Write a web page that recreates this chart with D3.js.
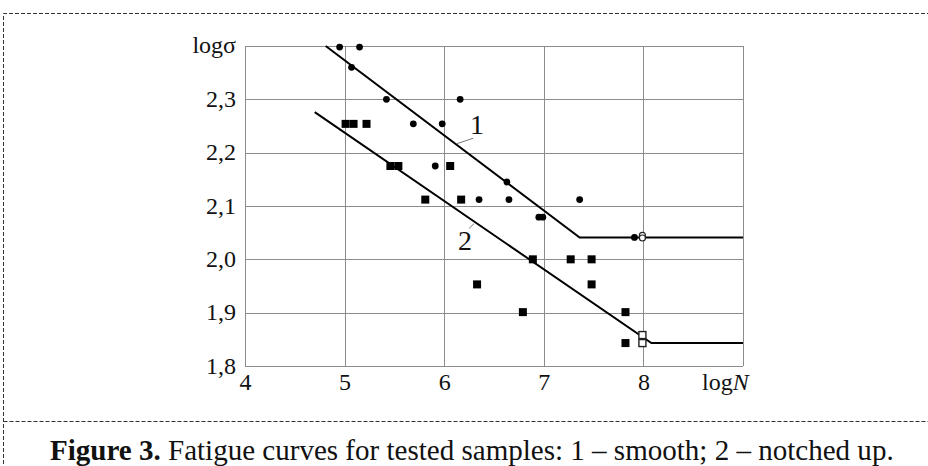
<!DOCTYPE html>
<html>
<head>
<meta charset="utf-8">
<script src="https://cdn.jsdelivr.net/npm/d3@7"></script>
<style>
  body { margin: 0; background: #fff; }
  svg { display: block; }
  text { font-family: "Liberation Serif", "Times New Roman", serif; fill: #111; }
</style>
</head>
<body>
<script>
//Width and height
var w = 928;
var h = 466;

//Tick values and labels
var xTicks = [4, 5, 6, 7, 8];
var yTicks = [1.8, 1.9, 2.0, 2.1, 2.2, 2.3];
var yTickLabels = ["1,8", "1,9", "2,0", "2,1", "2,2", "2,3"];

//Curve 1 - smooth samples (logN, logσ)
var smoothN = [4.95, 5.15, 5.07, 5.42, 6.16, 5.69, 5.98, 5.91, 6.35, 6.63, 6.65, 7.36, 6.95, 6.99, 7.91];
var smoothS = [2.398, 2.398, 2.36, 2.30, 2.30, 2.254, 2.254, 2.175, 2.112, 2.145, 2.112, 2.112, 2.079, 2.079, 2.041];
var smoothRunoutN = [7.99, 7.99];
var smoothRunoutS = [2.045, 2.040];

//Curve 2 - notched samples
var notchedN = [5.01, 5.09, 5.22, 5.46, 5.54, 6.06, 5.81, 6.17, 6.89, 7.27, 7.48, 6.33, 7.48, 6.79, 7.82, 7.82];
var notchedS = [2.254, 2.254, 2.254, 2.175, 2.175, 2.175, 2.112, 2.112, 2.0, 2.0, 2.0, 1.953, 1.953, 1.901, 1.901, 1.843];
var notchedRunoutN = [7.99, 7.99];
var notchedRunoutS = [1.858, 1.843];

//Fitted fatigue curves
var curve1N = [4.81, 7.36, 9];
var curve1S = [2.40, 2.041, 2.041];
var curve2N = [4.70, 8.08, 9];
var curve2S = [2.276, 1.843, 1.843];

//Curve labels with their leader lines
var curveLabels = ["1", "2"];
var labelN = [6.33, 6.21];
var labelS = [2.235, 2.017];
var leaderN = [[6.13, 6.29], [6.25, 6.30]];
var leaderS = [[2.217, 2.227], [2.058, 2.067]];

var caption = "Fatigue curves for tested samples: 1 \u2013 smooth; 2 \u2013 notched up.";

var serif = "'Liberation Serif', 'Times New Roman', serif";

function zip(a, b) {
  return a.map(function (d, i) { return [d, b[i]]; });
}

var xScale = d3.scaleLinear().domain([4, 9]).range([245, 743]);
var yScale = d3.scaleLinear().domain([1.8, 2.4]).range([366, 46]);

var svg = d3.select("body").append("svg").attr("width", w).attr("height", h);

// Dashed frame of the figure
svg.append("path")
  .attr("d", "M3.5,470V13.5H932M3.5,421.5H932")
  .attr("fill", "none")
  .attr("stroke", "#333")
  .attr("stroke-dasharray", "4,2");

// Grid
var grid = svg.append("g").attr("stroke", "#8c8c8c").attr("stroke-width", 1);
grid.selectAll(".vx").data(xTicks.concat([9])).enter().append("line")
  .attr("x1", function (d) { return Math.round(xScale(d)) + 0.5; })
  .attr("x2", function (d) { return Math.round(xScale(d)) + 0.5; })
  .attr("y1", yScale(2.4)).attr("y2", yScale(1.8));
grid.selectAll(".hy").data(yTicks.concat([2.4])).enter().append("line")
  .attr("y1", function (d) { return Math.round(yScale(d)) + 0.5; })
  .attr("y2", function (d) { return Math.round(yScale(d)) + 0.5; })
  .attr("x1", xScale(4)).attr("x2", xScale(9));

// Axis labels
function styleTicks(g, y) {
  g.select(".domain").remove();
  g.attr("font-family", null).attr("font-size", null);
  g.selectAll("text")
    .attr("dy", null).attr("y", y)
    .attr("fill", "#111")
    .style("font-family", serif)
    .style("font-size", "24px");
}

var xAxis = d3.axisBottom(xScale).tickValues(xTicks)
  .tickFormat(d3.format("d"))
  .tickSize(0).tickPadding(0);
svg.append("g")
  .attr("transform", "translate(0," + yScale(1.8) + ")")
  .call(xAxis)
  .call(styleTicks, 24);

var yAxis = d3.axisLeft(yScale).tickValues(yTicks)
  .tickFormat(function (d, i) { return yTickLabels[i]; })
  .tickSize(0).tickPadding(0);
svg.append("g")
  .attr("transform", "translate(" + (xScale(4) - 9) + ",0)")
  .call(yAxis)
  .call(styleTicks, 7);

svg.append("text")
  .attr("x", xScale(4) - 9).attr("y", yScale(2.4) + 7)
  .attr("text-anchor", "end")
  .style("font-size", "24px")
  .text("log\u03c3");

var nLabel = svg.append("text")
  .attr("x", 702).attr("y", yScale(1.8) + 24)
  .style("font-size", "24px");
nLabel.append("tspan").text("log");
nLabel.append("tspan").attr("font-style", "italic").text("N");

// Fitted lines
var line = d3.line()
  .x(function (d) { return xScale(d[0]); })
  .y(function (d) { return yScale(d[1]); });

svg.selectAll(".curve")
  .data([zip(curve1N, curve1S), zip(curve2N, curve2S)])
  .enter().append("path")
  .attr("d", line)
  .attr("fill", "none")
  .attr("stroke", "#000")
  .attr("stroke-width", 2);

// Leader lines and curve numbers
svg.selectAll(".leader")
  .data(curveLabels).enter().append("line")
  .attr("x1", function (d, i) { return xScale(leaderN[i][0]); })
  .attr("y1", function (d, i) { return yScale(leaderS[i][0]); })
  .attr("x2", function (d, i) { return xScale(leaderN[i][1]); })
  .attr("y2", function (d, i) { return yScale(leaderS[i][1]); })
  .attr("stroke", "#777").attr("stroke-width", 1);

svg.selectAll(".clabel")
  .data(curveLabels).enter().append("text")
  .attr("x", function (d, i) { return xScale(labelN[i]); })
  .attr("y", function (d, i) { return yScale(labelS[i]); })
  .attr("text-anchor", "middle")
  .style("font-size", "28px")
  .text(function (d) { return d; });

// Points: smooth samples (circles)
svg.selectAll(".smooth")
  .data(zip(smoothN, smoothS)).enter().append("circle")
  .attr("cx", function (d) { return xScale(d[0]); })
  .attr("cy", function (d) { return yScale(d[1]); })
  .attr("r", 3.4)
  .attr("fill", "#000");

svg.selectAll(".smoothRun")
  .data(zip(smoothRunoutN, smoothRunoutS)).enter().append("circle")
  .attr("cx", function (d) { return xScale(d[0]); })
  .attr("cy", function (d) { return yScale(d[1]); })
  .attr("r", 3)
  .attr("fill", "#fff")
  .attr("stroke", "#222")
  .attr("stroke-width", 1.2);

// Points: notched samples (squares)
var sq = 8;
svg.selectAll(".notched")
  .data(zip(notchedN, notchedS)).enter().append("rect")
  .attr("x", function (d) { return xScale(d[0]) - sq / 2; })
  .attr("y", function (d) { return yScale(d[1]) - sq / 2; })
  .attr("width", sq).attr("height", sq)
  .attr("fill", "#000");

svg.selectAll(".notchedRun")
  .data(zip(notchedRunoutN, notchedRunoutS)).enter().append("rect")
  .attr("x", function (d) { return xScale(d[0]) - 3.5; })
  .attr("y", function (d) { return yScale(d[1]) - 3.5; })
  .attr("width", 7).attr("height", 7)
  .attr("fill", "#fff")
  .attr("stroke", "#222")
  .attr("stroke-width", 1.4);

// Caption
var cap = svg.append("text")
  .attr("x", 50).attr("y", 460)
  .style("font-size", "28px");
cap.append("tspan").attr("font-weight", "bold").text("Figure 3.");
cap.append("tspan").text(" " + caption);

//Fit caption width to the figure
var capW = cap.node().getComputedTextLength();
cap.style("font-size", (28 * 844 / capW) + "px");
</script>
</body>
</html>
